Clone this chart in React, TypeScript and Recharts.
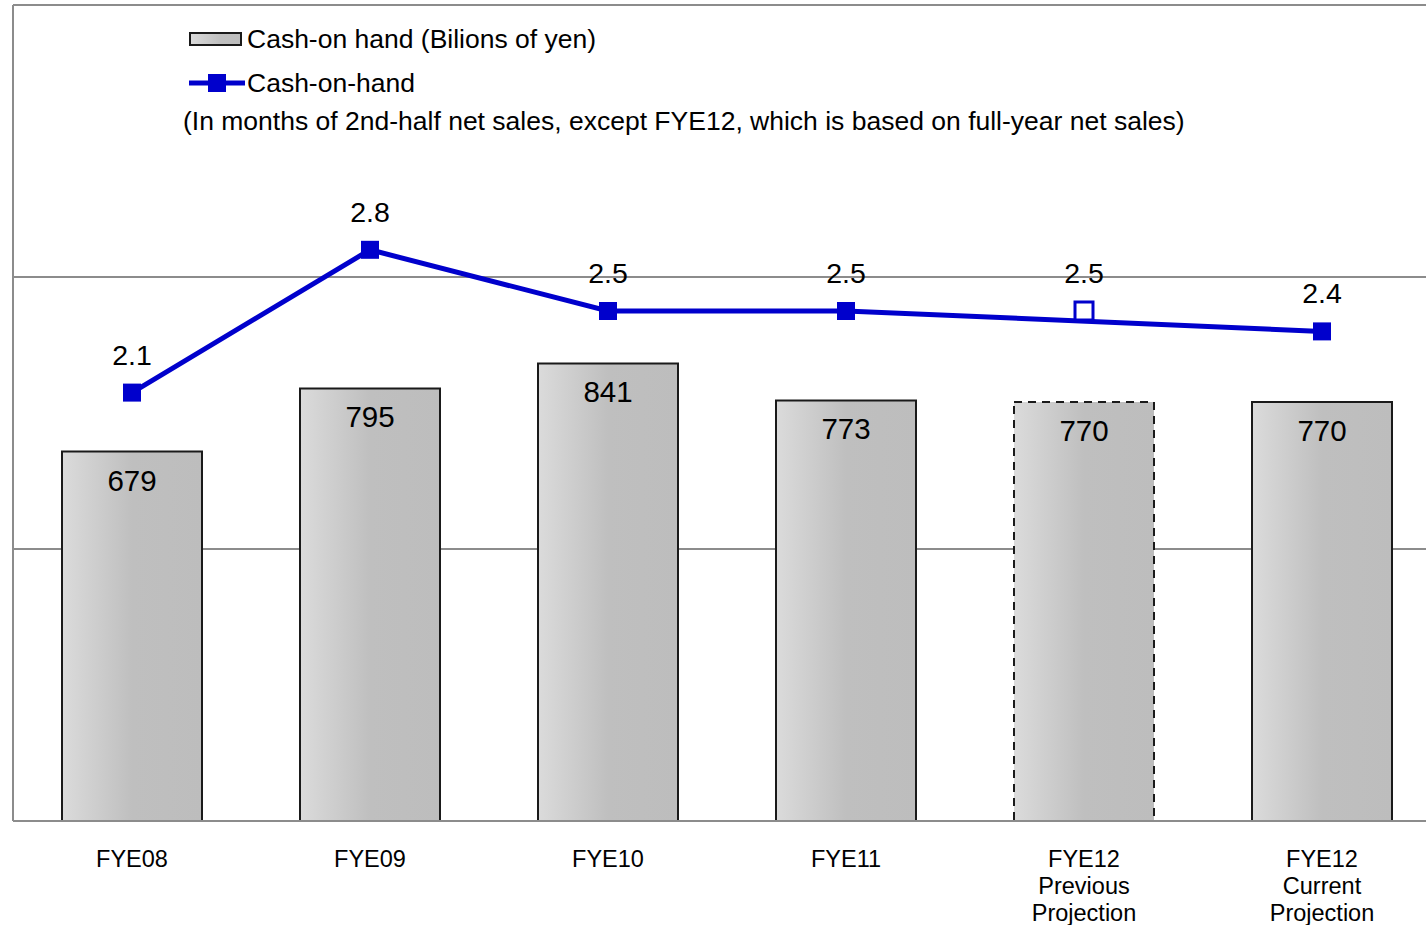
import React from "react";
import {
  ComposedChart,
  Bar,
  Line,
  XAxis,
  YAxis,
  CartesianGrid,
  LabelList,
  Cell,
} from "recharts";

const categories = [
  "FYE08",
  "FYE09",
  "FYE10",
  "FYE11",
  "FYE12\nPrevious\nProjection",
  "FYE12\nCurrent\nProjection",
];
const cashBillions = [679, 795, 841, 773, 770, 770];
const cashMonths: (number | null)[] = [2.1, 2.8, 2.5, 2.5, null, 2.4];
const prevMonths: (number | null)[] = [null, null, null, null, 2.5, null];
const leftTicks = [0, 500, 1000, 1500];

const data = categories.map((name, i) => ({
  name,
  cash: cashBillions[i],
  months: cashMonths[i],
  prev: prevMonths[i],
}));

const FONT = "'Liberation Sans', Arial, sans-serif";
const BLUE = "#0000cc";
const GRID = "#8c8c8c";

const SquareDot = (props: any) => {
  const { cx, cy, value } = props;
  if (value == null || cx == null || cy == null) return null;
  return <rect x={cx - 9} y={cy - 9} width={18} height={18} fill={BLUE} />;
};

const HollowDot = (props: any) => {
  const { cx, cy, value } = props;
  if (value == null || cx == null || cy == null) return null;
  return (
    <rect
      x={cx - 9}
      y={cy - 9}
      width={18}
      height={18}
      fill="#fff"
      stroke={BLUE}
      strokeWidth={3}
    />
  );
};

const CategoryTick = (props: any) => {
  const { x, y, payload } = props;
  const lines = String(payload.value).split("\n");
  return (
    <text
      x={x}
      y={y}
      textAnchor="middle"
      fontFamily={FONT}
      fontSize={23.5}
      fill="#000"
    >
      {lines.map((l, i) => (
        <tspan key={i} x={x} dy={i === 0 ? 46 : 27}>
          {l}
        </tspan>
      ))}
    </text>
  );
};

export default function App() {
  return (
    <div
      style={{
        position: "absolute",
        left: 0,
        top: 0,
        width: 1426,
        height: 925,
        overflow: "hidden",
        background: "#fff",
        fontFamily: FONT,
      }}
    >
      <ComposedChart
        width={1460}
        height={940}
        data={data}
        margin={{ top: 5, right: 19, left: 12, bottom: 0 }}
        barCategoryGap={49}
      >
        <defs>
          <linearGradient id="barGrad" x1="0" y1="0" x2="1" y2="0">
            <stop offset="0%" stopColor="#dbdbdb" />
            <stop offset="50%" stopColor="#bfbfbf" />
            <stop offset="100%" stopColor="#bdbdbd" />
          </linearGradient>
        </defs>
        <CartesianGrid
          vertical={false}
          stroke={GRID}
          strokeWidth={2}
          yAxisId="left"
        />
        <XAxis
          dataKey="name"
          interval={0}
          tickLine={false}
          tickSize={0}
          tickMargin={0}
          height={119}
          axisLine={{ stroke: GRID, strokeWidth: 2 }}
          tick={<CategoryTick />}
        />
        <YAxis
          yAxisId="left"
          domain={[0, 1500]}
          ticks={leftTicks}
          interval={0}
          width={1}
          tick={{ fill: "transparent", fontSize: 1 }}
          tickLine={false}
          axisLine={{ stroke: GRID, strokeWidth: 2 }}
        />
        <YAxis yAxisId="right" orientation="right" domain={[0, 4]} hide />
        <Bar
          yAxisId="left"
          dataKey="cash"
          fill="url(#barGrad)"
          stroke="#1a1a1a"
          strokeWidth={2}
          isAnimationActive={false}
        >
          {data.map((d, i) => (
            <Cell
              key={i}
              fill="url(#barGrad)"
              stroke="#1a1a1a"
              strokeWidth={2}
              strokeDasharray={i === 4 ? "8 6" : undefined}
            />
          ))}
          <LabelList
            dataKey="cash"
            position="insideTop"
            offset={18}
            fill="#000"
            fontSize={29.5}
            fontFamily={FONT}
          />
        </Bar>
        <Line
          yAxisId="right"
          dataKey="months"
          stroke={BLUE}
          strokeWidth={5}
          connectNulls
          dot={<SquareDot />}
          activeDot={false}
          isAnimationActive={false}
        >
          <LabelList
            dataKey="months"
            position="top"
            offset={28}
            fill="#000"
            fontSize={28.5}
            fontFamily={FONT}
          />
        </Line>
        <Line
          yAxisId="right"
          dataKey="prev"
          stroke="none"
          dot={<HollowDot />}
          activeDot={false}
          isAnimationActive={false}
        >
          <LabelList
            dataKey="prev"
            position="top"
            offset={28}
            fill="#000"
            fontSize={28.5}
            fontFamily={FONT}
          />
        </Line>
      </ComposedChart>

      <div
        style={{
          position: "absolute",
          left: 189,
          top: 24,
          fontSize: 26.5,
          lineHeight: "30px",
          color: "#000",
          whiteSpace: "nowrap",
        }}
      >
        <div style={{ display: "flex", alignItems: "center", height: 30 }}>
          <svg width={58} height={16}>
            <defs>
              <linearGradient id="legGrad" x1="0" y1="0" x2="1" y2="0">
                <stop offset="0%" stopColor="#dbdbdb" />
                <stop offset="60%" stopColor="#bfbfbf" />
                <stop offset="100%" stopColor="#bdbdbd" />
              </linearGradient>
            </defs>
            <rect
              x={1}
              y={2}
              width={51}
              height={12}
              fill="url(#legGrad)"
              stroke="#1a1a1a"
              strokeWidth={2}
            />
          </svg>
          <span>Cash-on hand (Bilions of yen)</span>
        </div>
        <div
          style={{
            display: "flex",
            alignItems: "center",
            height: 30,
            marginTop: 14,
          }}
        >
          <svg width={58} height={20}>
            <line x1={0} y1={10} x2={56} y2={10} stroke={BLUE} strokeWidth={5} />
            <rect x={19} y={1} width={18} height={18} fill={BLUE} />
          </svg>
          <span>Cash-on-hand</span>
        </div>
      </div>
      <div
        style={{
          position: "absolute",
          left: 183,
          top: 106,
          fontSize: 26.5,
          lineHeight: "30px",
          color: "#000",
          whiteSpace: "nowrap",
        }}
      >
        (In months of 2nd-half net sales, except FYE12, which is based on
        full-year net sales)
      </div>
    </div>
  );
}
